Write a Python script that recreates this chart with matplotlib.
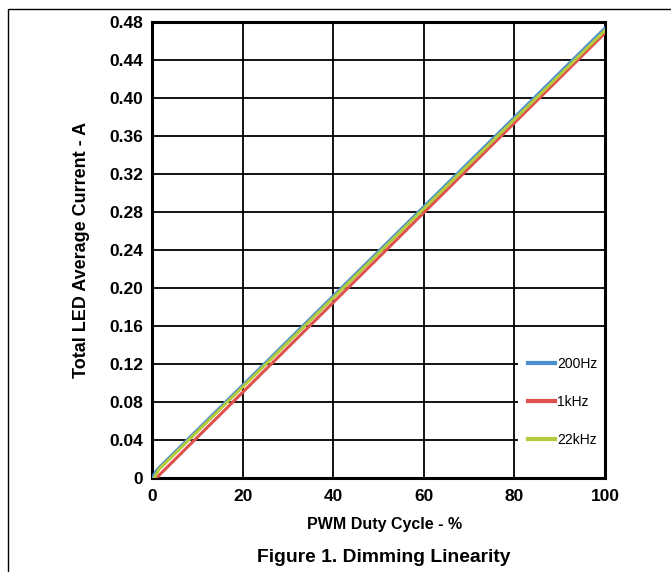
import numpy as np
import matplotlib.pyplot as plt
from matplotlib.patches import Rectangle

plt.rcParams['font.family'] = ['Liberation Sans', 'DejaVu Sans']

# data
duty_200hz = [0, 1, 2, 100]
cur_200hz = [0, 0.008, 0.013, 0.4737]
duty_1khz = [1, 2, 100]
cur_1khz = [0, 0.005, 0.4684]
duty_22khz = [0.5, 1.5, 100]
cur_22khz = [0, 0.009, 0.4712]

xticks = [0, 20, 40, 60, 80, 100]
yticks = [0, 0.04, 0.08, 0.12, 0.16, 0.20, 0.24, 0.28, 0.32, 0.36, 0.40, 0.44, 0.48]
ylabels = ['0'] + ['%.2f' % v for v in yticks[1:]]

fig = plt.figure(figsize=(6.71, 5.72), dpi=100)
ax = fig.add_axes([0.2265, 0.1643, 0.675, 0.797])

ax.plot(duty_200hz, cur_200hz, color='#4a8fd0', lw=2.2, label='200Hz', zorder=3)
ax.plot(duty_1khz, cur_1khz, color='#e0504c', lw=2.2, label='1kHz', zorder=3)
ax.plot(duty_22khz, cur_22khz, color='#b4c93c', lw=2.2, label='22kHz', zorder=4)

ax.set_xlim(0, 100)
ax.set_ylim(0, 0.48)
ax.set_xticks(xticks)
ax.set_yticks(yticks)
ax.set_yticklabels(ylabels)
ax.grid(True, color='black', lw=1.3)
ax.set_axisbelow(True)
for s in ax.spines.values():
    s.set_linewidth(2.2)
ax.tick_params(axis='both', length=0, labelsize=12.5)
ax.tick_params(axis='y', pad=6.5)
ax.tick_params(axis='x', pad=8)
for t in ax.get_xticklabels() + ax.get_yticklabels():
    t.set_fontweight('bold')

ax.set_xlabel('PWM Duty Cycle - %', fontsize=11.5, fontweight='bold', labelpad=9)
ax.xaxis.set_label_coords((385 - 152) / 453, -0.085)
ax.set_ylabel('Total LED Average Current - A', fontsize=13, fontweight='bold', labelpad=14)

leg = ax.legend(loc='center left', bbox_to_anchor=(0.808, 0.1667), borderaxespad=0,
                frameon=True, facecolor='white', edgecolor='none', framealpha=1,
                fancybox=False, borderpad=0.75, handlelength=1.9, handletextpad=0.15,
                labelspacing=1.75, prop={'family': ['Liberation Sans Narrow', 'Liberation Sans'], 'size': 10})
leg.set_zorder(2)
for line in leg.get_lines():
    line.set_linewidth(3)

fig.text(384 / 671, 1 - 557 / 572, 'Figure 1. Dimming Linearity',
         ha='center', va='center', fontsize=13.9, fontweight='bold')

fig.patches.append(Rectangle((8 / 671, -0.1), 1.2, 1.1 - 9 / 572, transform=fig.transFigure,
                             fill=False, edgecolor='black', lw=1))

fig.savefig('out.png', dpi=100)
